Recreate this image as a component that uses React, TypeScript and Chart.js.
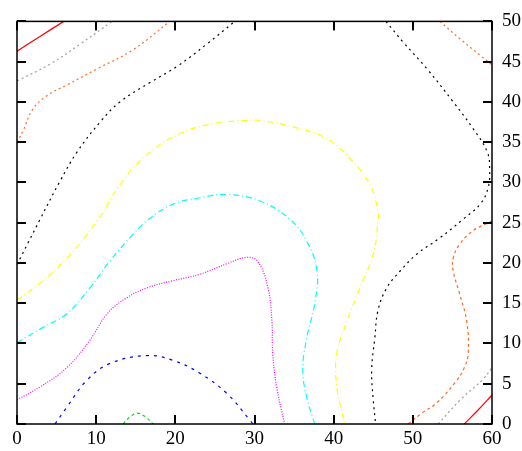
import React, { useEffect, useRef } from "react";
import { Chart, registerables } from "chart.js";

Chart.register(...registerables);

const xTicks = [0, 10, 20, 30, 40, 50, 60];
const yTicks = [0, 5, 10, 15, 20, 25, 30, 35, 40, 45, 50];

// contour paths [x, y]
const redTopLeft = [[0, 46.3], [3, 48.2], [5.9, 50]];
const redBottomRight = [[56.5, 0], [58.3, 1.8], [60, 3.6]];
const grayTopLeft = [[0, 42.6], [4.2, 44.7], [8, 47.2], [12, 50]];
const grayBottomRight = [[53.2, 0], [56, 3], [58.9, 5.6], [60, 7]];
const orangeTopLeft = [[0, 35], [0.8, 36.5], [2, 39.1], [3.8, 40.8], [6.3, 42.1], [10.1, 44.1], [14.7, 46.5], [19.3, 50]];
const orangeTopRight = [[53.4, 50], [56, 47.8], [58.5, 45.8], [60, 44.6]];
const orangeBottomRight = [[49.4, 0], [51.2, 1.4], [53, 2.6], [55.3, 5.1], [56.5, 7], [57, 8.8], [56.8, 12.8], [55.9, 16.2], [55.1, 19], [55.1, 20.6], [55.9, 22.3], [57.6, 24], [60, 25.2]];
const blackLeft = [[0, 19.8], [1.4, 22.5], [2.9, 25.4], [5.4, 30.1], [7.6, 33.8], [10.5, 37.5], [13, 40], [16.8, 42.4], [20.2, 44.4], [24, 47.2], [27.5, 50]];
const blackRight = [[46.6, 50], [48.8, 47.4], [51.8, 44.1], [55.1, 40], [57.6, 36.7], [59.4, 33.8], [59.7, 31.7], [59.5, 29.3], [58.5, 27.3], [56.3, 25.4], [53.4, 23.1], [50.5, 21.1], [48.4, 19], [46.7, 16.9], [45.6, 14.1], [45.2, 10.7], [44.8, 6.7], [45, 3], [45.3, 0]];
const yellowLine = [[0, 15.4], [2.9, 17.5], [6.3, 20.6], [10.1, 25.2], [13, 29.7], [15.9, 33], [20.2, 35.9], [24.8, 37.3], [29, 37.7], [30.7, 37.7], [34.9, 36.9], [39.2, 35.4], [42.4, 32.6], [44.6, 29.7], [45.6, 26.4], [45.6, 25.2], [45, 21.1], [43.3, 16.9], [41.7, 12.8], [40.4, 8.8], [40.4, 4.6], [41.4, 0]];
const cyanLine = [[0, 10.1], [3.3, 12], [6.3, 13.7], [9.2, 16.9], [11.7, 20.2], [14.7, 23.6], [16.6, 25.4], [19.7, 27.3], [23.1, 28.1], [26.5, 28.5], [30.7, 27.7], [34.5, 25.4], [36.6, 22.7], [37.9, 19], [37.6, 14.9], [36.6, 10.7], [36.1, 6.7], [36.6, 3.3], [37.6, 0]];
const magentaLine = [[0, 3], [2.9, 4.6], [6.3, 7], [9.2, 10.4], [11.4, 13.7], [13.9, 15.7], [16.4, 16.9], [19.7, 17.8], [23.1, 18.6], [26.5, 19.9], [29, 20.7], [30.4, 20.2], [31.7, 16.9], [32.2, 12.8], [32.3, 8.8], [32.8, 4.6], [33.8, 0]];
const blueLine = [[4.8, 0], [6.3, 2.1], [8.8, 5.4], [11.7, 7.5], [16.4, 8.5], [19.7, 7.9], [23.1, 6.3], [26.5, 3.8], [29.4, 0.5], [29.8, 0]];
const greenLine = [[13.4, 0], [14.3, 0.9], [15.2, 1.35], [16.2, 0.9], [17.2, 0]];

const contours: [number[][], string, number[]][] = [
  [redTopLeft, "#ff0000", []],
  [redBottomRight, "#ff0000", []],
  [grayTopLeft, "#a0a0a0", [2, 3]],
  [grayBottomRight, "#a0a0a0", [2, 3]],
  [orangeTopLeft, "#ff6a2a", [2, 3]],
  [orangeTopRight, "#ff6a2a", [2, 3]],
  [orangeBottomRight, "#ff6a2a", [3, 3]],
  [blackLeft, "#000000", [2, 4]],
  [blackRight, "#000000", [2, 4]],
  [yellowLine, "#ffff00", [6, 3, 1, 3]],
  [cyanLine, "#00ffff", [6, 3, 1, 3]],
  [magentaLine, "#ff00ff", [1, 1.5]],
  [blueLine, "#0000ff", [3, 5]],
  [greenLine, "#00dd00", [3, 3]],
];

const framePlugin = {
  id: "frame",
  afterDraw(chart: any) {
    const { ctx, chartArea: a, scales } = chart;
    const xs = scales.x;
    const ys = scales.y;
    const len = 9;
    const w = 2;
    ctx.save();
    ctx.fillStyle = "#000";
    for (const v of xTicks) {
      const px = Math.round(xs.getPixelForValue(v));
      ctx.fillRect(px - 1, a.bottom - len, w, len);
      ctx.fillRect(px - 1, a.top, w, len);
    }
    for (const v of yTicks) {
      const py = Math.round(ys.getPixelForValue(v));
      ctx.fillRect(a.left, py - 1, len, w);
      ctx.fillRect(a.right - len, py - 1, len, w);
    }
    ctx.strokeStyle = "#000";
    ctx.lineWidth = 1.5;
    ctx.setLineDash([]);
    ctx.strokeRect(a.left, a.top, a.right - a.left, a.bottom - a.top);
    ctx.restore();
  },
};

export default function App() {
  const ref = useRef<HTMLCanvasElement | null>(null);
  useEffect(() => {
    const canvas = ref.current;
    if (!canvas) return;
    const chart = new Chart(canvas, {
      type: "scatter",
      data: {
        datasets: contours.map(([pts, color, dash]) => ({
          data: pts.map(([x, y]) => ({ x, y })),
          showLine: true,
          borderColor: color,
          backgroundColor: color,
          borderWidth: 1.2,
          borderDash: dash,
          pointRadius: 0,
          tension: 0.4,
          fill: false,
        })),
      },
      options: {
        animation: false,
        responsive: false,
        layout: { padding: { left: 17, top: 19, right: 0, bottom: 0 } },
        plugins: { legend: { display: false }, tooltip: { enabled: false } },
        scales: {
          x: {
            type: "linear",
            min: 0,
            max: 60,
            position: "bottom",
            afterFit: (s: any) => { s.height = 27; },
            afterBuildTicks: (s: any) => { s.ticks = xTicks.map((v) => ({ value: v })); },
            grid: { display: false, drawTicks: false },
            border: { display: false },
            ticks: { padding: 4, color: "#000", maxRotation: 0, font: { family: "'Liberation Serif', serif", size: 19 } },
          },
          y: {
            type: "linear",
            min: 0,
            max: 50,
            position: "right",
            afterFit: (s: any) => { s.width = 30; },
            afterBuildTicks: (s: any) => { s.ticks = yTicks.map((v) => ({ value: v })); },
            grid: { display: false, drawTicks: false },
            border: { display: false },
            ticks: { padding: 10, color: "#000", font: { family: "'Liberation Serif', serif", size: 19 } },
          },
        },
      },
      plugins: [framePlugin],
    });
    return () => chart.destroy();
  }, []);
  return (
    <div style={{ position: "absolute", left: 0, top: 0, width: 522, height: 451, background: "#fff" }}>
      <canvas ref={ref} width={522} height={451} style={{ width: 522, height: 451 }} />
    </div>
  );
}
